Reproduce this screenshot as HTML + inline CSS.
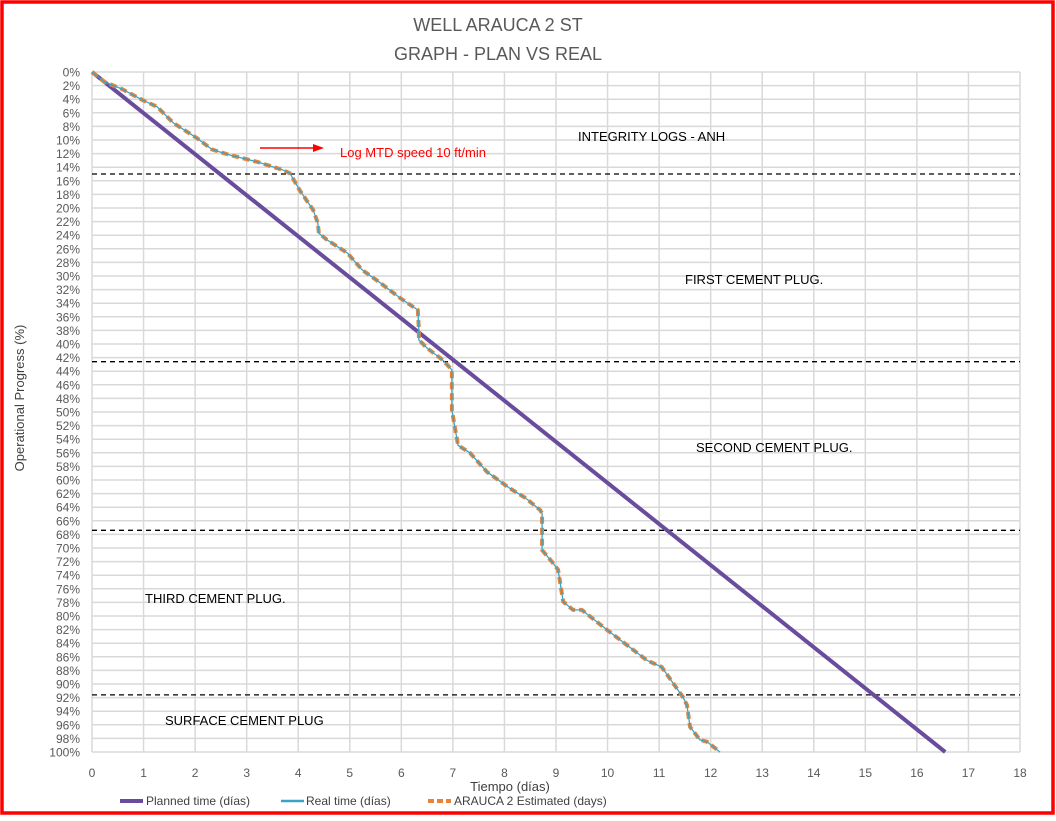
<!DOCTYPE html>
<html><head><meta charset="utf-8"><style>
html,body{margin:0;padding:0;background:#fff;}
body{width:1056px;height:816px;overflow:hidden;font-family:"Liberation Sans",sans-serif;}
</style></head><body>
<svg width="1056" height="816" xmlns="http://www.w3.org/2000/svg">
<rect x="2" y="2" width="1051" height="811" fill="#fff" stroke="#ff0000" stroke-width="3.5"/>
<text x="498" y="31" text-anchor="middle" font-size="18" fill="#595959">WELL ARAUCA 2 ST</text>
<text x="498" y="60" text-anchor="middle" font-size="18" fill="#595959">GRAPH  - PLAN VS REAL</text>
<g id="grid"></g>
<g id="yticks"></g>
<g id="xticks"></g>
<g id="phases"></g>
<g id="series"></g>
<text x="24" y="398" transform="rotate(-90 24 398)" text-anchor="middle" font-size="13" fill="#404040">Operational Progress (%)</text>
<text x="510" y="791" text-anchor="middle" font-size="13" fill="#404040">Tiempo (días)</text>
<text x="578" y="141" font-size="13" fill="#000">INTEGRITY LOGS - ANH</text>
<text x="685" y="284" font-size="13" fill="#000">FIRST CEMENT PLUG.</text>
<text x="696" y="452" font-size="13" fill="#000">SECOND  CEMENT PLUG.</text>
<text x="145" y="603" font-size="13" fill="#000">THIRD CEMENT PLUG.</text>
<text x="165" y="725" font-size="13" fill="#000">SURFACE CEMENT PLUG</text>
<line x1="260" y1="148" x2="315" y2="148" stroke="#ff0000" stroke-width="1.5"/>
<polygon points="313,144 324,148 313,152" fill="#ff0000"/>
<text x="340" y="157" font-size="13" fill="#ff0000">Log MTD speed 10 ft/min</text>
<g>
<line x1="120" y1="801" x2="143" y2="801" stroke="#6a4c9c" stroke-width="4"/>
<text x="146" y="805" font-size="12" fill="#404040">Planned time (días)</text>
<line x1="281" y1="801" x2="304" y2="801" stroke="#3ba3c4" stroke-width="2.5"/>
<text x="306" y="805" font-size="12" fill="#404040">Real time (días)</text>
<line x1="428" y1="801" x2="451" y2="801" stroke="#e8843a" stroke-width="4" stroke-dasharray="6,3"/>
<text x="454" y="805" font-size="12" fill="#404040">ARAUCA 2 Estimated (days)</text>
</g>
</svg>
<script>
const xTicks=[0,1,2,3,4,5,6,7,8,9,10,11,12,13,14,15,16,17,18];
const yTicks=[0,2,4,6,8,10,12,14,16,18,20,22,24,26,28,30,32,34,36,38,40,42,44,46,48,50,52,54,56,58,60,62,64,66,68,70,72,74,76,78,80,82,84,86,88,90,92,94,96,98,100];
const plannedDays=[0,16.55];
const plannedPct=[0,100];
const realDays=[0,0.25,0.58,1.0,1.26,1.58,2.03,2.33,2.67,3.2,3.7,3.84,4.03,4.29,4.38,4.40,4.56,4.95,5.24,5.59,5.97,6.32,6.34,6.34,6.5,6.81,6.98,6.98,7.1,7.33,7.66,8.1,8.4,8.69,8.73,8.73,8.94,9.04,9.14,9.33,9.5,10.0,10.76,11.05,11.46,11.54,11.6,11.79,11.93,12.18];
const realPct=[0,1.5,2.5,4.2,5.1,7.5,9.7,11.4,12.2,13.2,14.4,14.9,17.4,20.3,22.2,23.7,24.7,26.6,29.1,31,33.2,35,37.9,39.4,40.6,42.4,43.8,49.7,54.9,56,58.8,61.2,62.6,64.4,64.9,70.3,72.2,73.2,77.9,79.1,79.1,82.1,86.5,87.5,91.9,93.1,96.3,98.2,98.5,100];
const phasePct=[15,42.6,67.4,91.6];
const X0=92,X1=1020,Y0=72,Y1=752;
const sx=v=>X0+(v-0)/(18-0)*(X1-X0);
const sy=v=>Y0+(v-0)/100*(Y1-Y0);
const NS='http://www.w3.org/2000/svg';
function mk(t,a,p){const e=document.createElementNS(NS,t);for(const k in a)e.setAttribute(k,a[k]);p.appendChild(e);return e;}
const grid=document.getElementById('grid'),yt=document.getElementById('yticks'),xt=document.getElementById('xticks'),ph=document.getElementById('phases'),se=document.getElementById('series');
yTicks.forEach(v=>{
 const l=mk('line',{x1:X0,x2:X1,y1:sy(v),y2:sy(v),stroke:'#d9d9d9','stroke-width':1.5},grid);
 
 
 const t=mk('text',{x:80,y:sy(v)+4.5,'text-anchor':'end','font-size':12,fill:'#595959'},yt);
 t.textContent=v+'%';
 
 
});
xTicks.forEach(v=>{
 const l=mk('line',{x1:sx(v),x2:sx(v),y1:Y0,y2:Y1,stroke:'#d9d9d9','stroke-width':1.5},grid);
 
 
 const t=mk('text',{x:sx(v),y:777,'text-anchor':'middle','font-size':12,fill:'#595959'},xt);
 t.textContent=v;
 
 
});
phasePct.forEach(v=>{
 const l=mk('line',{x1:X0,x2:X1,y1:sy(v),y2:sy(v),stroke:'#000','stroke-width':1.3,'stroke-dasharray':'5,4'},ph);
 
 
});
const pts=(xs,ys)=>xs.map((x,i)=>sx(x)+','+sy(ys[i])).join(' ');
const p1=mk('polyline',{points:pts(plannedDays,plannedPct),fill:'none',stroke:'#6a4c9c','stroke-width':4},se);


const p3=mk('polyline',{points:pts(realDays,realPct),fill:'none',stroke:'#e8843a','stroke-width':4,'stroke-dasharray':'7,4','stroke-linejoin':'round'},se);


const p2=mk('polyline',{points:pts(realDays,realPct),fill:'none',stroke:'#3ba3c4','stroke-width':1.3},se);


</script>
</body></html>
